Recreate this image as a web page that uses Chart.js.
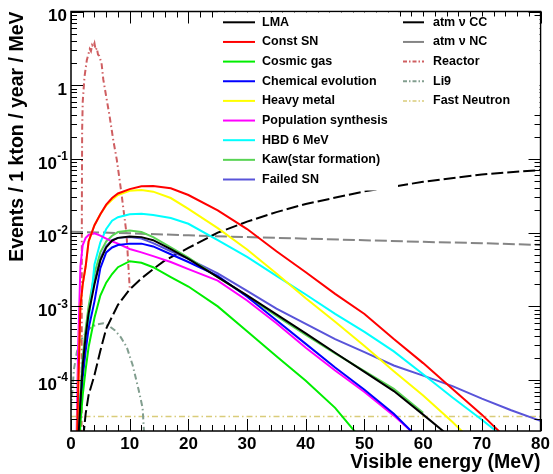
<!DOCTYPE html>
<html>
<head>
<meta charset="utf-8">
<script src="https://cdn.jsdelivr.net/npm/chart.js@4.4.1/dist/chart.umd.min.js"></script>
<style>
  html, body { margin: 0; padding: 0; background: #fff; }
</style>
</head>
<body>
<canvas id="c" width="553" height="474"></canvas>
<script>
// energy grid (MeV) used by the SRN model curves
const energies = [0.9, 1.2, 1.6, 2, 2.5, 3, 4, 5, 6, 7, 8, 10, 12, 14, 17, 20, 25, 30, 35, 40, 45, 50, 55, 60, 65, 70, 75, 80];

// events / 1 kton / year / MeV
const lma        = [2e-6, 1.3e-5, 5e-5, 1.6e-4, 4e-4, 8e-4, 2e-3, 4.2e-3, 6.3e-3, 7.8e-3, 8.5e-3, 8.9e-3, 8.7e-3, 7.9e-3, 6e-3, 4.4e-3, 2.5e-3, 1.41e-3, 7.8e-4, 4.3e-4, 2.35e-4, 1.29e-4, 7.1e-5, 3.4e-5, 1.6e-5, null, null, null];
const constSN    = [5e-6, 6e-5, 1e-3, 2e-3, 3.5e-3, 7.6e-3, 0.0126, 0.0178, 0.024, 0.0295, 0.034, 0.039, 0.0427, 0.043, 0.040, 0.0324, 0.020, 0.0112, 5.6e-3, 2.9e-3, 1.48e-3, 7.9e-4, 3.6e-4, 1.7e-4, 7.6e-5, 3.4e-5, 1.4e-5, 6e-6];
const cosmicGas  = [1e-6, 6e-6, 2.5e-5, 6.3e-5, 1.4e-4, 2.8e-4, 7e-4, 1.4e-3, 2.1e-3, 2.75e-3, 3.4e-3, 4.1e-3, 3.9e-3, 3.4e-3, 2.5e-3, 1.86e-3, 1e-3, 4.6e-4, 2.1e-4, 9.8e-5, 4.2e-5, 1.4e-5, null, null, null, null, null, null];
const chemEvol   = [2e-6, 1e-5, 4e-5, 1.1e-4, 2.5e-4, 5e-4, 1.17e-3, 3.3e-3, 5.4e-3, 6.3e-3, 6.8e-3, 7.1e-3, 7.1e-3, 6.5e-3, 5.1e-3, 4e-3, 2.6e-3, 1.35e-3, 6.5e-4, 3.1e-4, 1.48e-4, 7.4e-5, 3.5e-5, 1.4e-5, null, null, null, null];
const heavyMetal = [5e-6, 6e-5, 1e-3, 2e-3, 3.5e-3, 7.6e-3, 0.0126, 0.0178, 0.0234, 0.028, 0.0324, 0.037, 0.038, 0.036, 0.0295, 0.021, 0.0115, 5.9e-3, 2.8e-3, 1.29e-3, 6.2e-4, 2.9e-4, 1.32e-4, 6.2e-5, 2.7e-5, 1.1e-5, null, null];
const popSynth   = [1e-5, 2.5e-4, 3.5e-3, 6.8e-3, 8.5e-3, 9.3e-3, 9.8e-3, 9.1e-3, 8.3e-3, 7.6e-3, 7.1e-3, 6.0e-3, 5.4e-3, 4.8e-3, 4.0e-3, 3.2e-3, 2.24e-3, 1.2e-3, 5.9e-4, 2.75e-4, 1.35e-4, 6.9e-5, 3.3e-5, 1.45e-5, null, null, null, null];
const hbd6       = [3e-6, 1e-5, 5e-5, 1.6e-4, 3.5e-4, 6e-4, 3.7e-3, 7.4e-3, 0.0112, 0.0145, 0.0162, 0.0178, 0.018, 0.0174, 0.0158, 0.0132, 7.9e-3, 4.7e-3, 2.6e-3, 1.45e-3, 7.9e-4, 4.5e-4, 2.45e-4, 1.2e-4, 5.8e-5, 2.9e-5, 1.4e-5, null];
const kaw        = [2e-6, 1.6e-5, 6e-5, 2e-4, 5e-4, 1e-3, 2.8e-3, 5.4e-3, 7.6e-3, 9.1e-3, 0.0102, 0.0107, 0.0102, 8.7e-3, 6.3e-3, 4.6e-3, 2.5e-3, 1.38e-3, 7.4e-4, 4.1e-4, 2.3e-4, 1.32e-4, 7.6e-5, 3.6e-5, null, null, null, null];
const failedSN   = [2e-6, 1.3e-5, 5.6e-5, 1.8e-4, 4.5e-4, 9e-4, 2.2e-3, 4.5e-3, 6.6e-3, 7.9e-3, 8.5e-3, 8.7e-3, 8.3e-3, 7.2e-3, 5.6e-3, 4.4e-3, 2.8e-3, 1.62e-3, 9.3e-4, 5.8e-4, 3.6e-4, 2.4e-4, 1.58e-4, 1.15e-4, 8.3e-5, 5.6e-5, 3.9e-5, 2.8e-5];

// backgrounds
const atmCCEnergies = [1.8, 2.5, 3, 4, 5, 6, 8, 10, 12, 14, 16, 20, 25, 30, 35, 40, 50, 60, 70, 80];
const atmCC         = [1e-5, 3.5e-5, 6.3e-5, 1.17e-4, 2.5e-4, 5e-4, 1.05e-3, 1.7e-3, 2.4e-3, 3.2e-3, 4.2e-3, 6.2e-3, 0.010, 0.0141, 0.019, 0.0245, 0.0363, 0.049, 0.0617, 0.0708];
const atmNCEnergies = [0, 10, 20, 30, 40, 50, 60, 70, 80];
const atmNC         = [0.0103, 9.8e-3, 9.2e-3, 8.7e-3, 8.3e-3, 7.9e-3, 7.5e-3, 7.2e-3, 6.8e-3];
const reactorEnergies = [1.8, 1.85, 1.9, 2.0, 2.3, 2.7, 3.0, 3.2, 3.4, 3.6, 3.8, 4.0, 4.2, 4.4, 4.6, 4.8, 5.2, 5.5, 6.0, 6.6, 7.2, 7.8, 8.6, 9.45, 10.0];
const reactor         = [1e-5, 0.02, 0.25, 0.6, 1.3, 2.2, 2.7, 3.1, 2.9, 3.5, 3.3, 3.7, 3.0, 3.2, 2.6, 2.5, 2.0, 1.2, 0.7, 0.37, 0.18, 0.098, 0.034, 0.0098, 0.0018];
const li9Energies = [0, 0.5, 1, 1.5, 2.5, 3.5, 4.5, 5.5, 6.5, 7.5, 8.5, 9.5, 10.5, 11.5, 12.2, 12.6];
const li9         = [4e-5, 1.4e-4, 2.4e-4, 3.3e-4, 4.4e-4, 5.3e-4, 5.7e-4, 5.9e-4, 5.4e-4, 4.7e-4, 3.8e-4, 2.8e-4, 1.6e-4, 7.5e-5, 4.2e-5, 1.2e-5];
const fastNEnergies = [0, 80];
const fastN         = [3.2e-5, 3.2e-5];

// y axis decade labels
const yTickValues = [10, 1, 0.1, 0.01, 0.001, 0.0001];
const yTickBase   = ['10', '1', '10', '10', '10', '10'];
const yTickExp    = ['', '', '-1', '-2', '-3', '-4'];

const FONT = 'Liberation Sans, Arial, Helvetica, sans-serif';

function series(xs, ys) {
    return xs.map((x, i) => ({ x: x, y: ys[i] }));
}

function ds(label, xs, ys, color, dash, width) {
    return {
        label: label,
        data: series(xs, ys),
        borderColor: color,
        backgroundColor: color,
        borderWidth: width || 2,
        borderDash: dash || [],
        pointRadius: 0,
        fill: false,
        tension: 0,
        clip: 0
    };
}

const dashLong = [12, 4];
const dashDot = [6, 3, 1.5, 3];

const datasets = [
    ds('LMA', energies, lma, '#000000'),
    ds('Const SN', energies, constSN, '#ff0000'),
    ds('Cosmic gas', energies, cosmicGas, '#00ee00'),
    ds('Chemical evolution', energies, chemEvol, '#0000ff'),
    ds('Heavy metal', energies, heavyMetal, '#ffff00'),
    ds('Population synthesis', energies, popSynth, '#ff00ff'),
    ds('HBD 6 MeV', energies, hbd6, '#00ffff'),
    ds('Kaw(star formation)', energies, kaw, '#59d454'),
    ds('Failed SN', energies, failedSN, '#5954d9'),
    ds('atm \u03bd CC', atmCCEnergies, atmCC, '#000000', dashLong),
    ds('atm \u03bd NC', atmNCEnergies, atmNC, '#858585', dashLong),
    ds('Reactor', reactorEnergies, reactor, '#cf5e61', dashDot),
    ds('Li9', li9Energies, li9, '#829e8f', dashDot),
    ds('Fast Neutron', fastNEnergies, fastN, '#d9cc7a', dashDot, 1.5)
];

// ROOT-like frame: inward ticks on all sides, legends drawn over the frame
const rootFrame = {
    id: 'rootFrame',
    afterDatasetsDraw(chart) {
        const { ctx, chartArea: a, scales: { x, y } } = chart;
        ctx.save();
        ctx.strokeStyle = '#000';
        ctx.lineWidth = 1;
        ctx.beginPath();
        for (let e = 0; e <= 80; e += 2) {
            const px = Math.round(x.getPixelForValue(e)) + 0.5;
            const len = e % 10 === 0 ? 12 : 6;
            ctx.moveTo(px, a.bottom); ctx.lineTo(px, a.bottom - len);
            ctx.moveTo(px, a.top); ctx.lineTo(px, a.top + len);
        }
        for (let d = 1e-5; d <= 10; d *= 10) {
            for (let m = 1; m <= 9; m++) {
                const v = m * d;
                if (v < y.min || v > y.max * 1.0001) continue;
                const py = Math.round(y.getPixelForValue(v)) + 0.5;
                const len = m === 1 ? 12 : 6;
                ctx.moveTo(a.left, py); ctx.lineTo(a.left + len, py);
                ctx.moveTo(a.right, py); ctx.lineTo(a.right - len, py);
            }
        }
        ctx.stroke();
        ctx.lineWidth = 1.5;
        ctx.strokeRect(a.left, a.top, a.right - a.left, a.bottom - a.top);

        // legend boxes
        ctx.fillStyle = '#fff';
        ctx.fillRect(218, a.top + 1, 180, 178);
        ctx.fillRect(398, a.top + 5, a.right - 399, 96);

        const rowY = (i) => 22.3 + i * 19.65;
        ctx.font = 'bold 12.5px ' + FONT;
        ctx.textBaseline = 'middle';
        ctx.textAlign = 'left';
        chart.data.datasets.forEach((d, i) => {
            const left = i < 9;
            const row = left ? i : i - 9;
            const x0 = left ? 223 : 403;
            const x1 = left ? 255 : 424;
            const tx = left ? 262 : 433;
            const yy = rowY(row);
            ctx.strokeStyle = d.borderColor;
            ctx.lineWidth = d.borderWidth;
            ctx.setLineDash(d.borderDash.length ? [4, 2, 1.5, 2] : []);
            if (i === 9 || i === 10) ctx.setLineDash([]);
            ctx.beginPath();
            ctx.moveTo(x0, yy); ctx.lineTo(x1, yy);
            ctx.stroke();
            ctx.setLineDash([]);
            ctx.fillStyle = '#000';
            ctx.fillText(d.label, tx, yy);
        });
        ctx.restore();
    },
    afterDraw(chart) {
        const { ctx, scales: { y } } = chart;
        ctx.save();
        ctx.fillStyle = '#000';
        ctx.textBaseline = 'middle';
        ctx.textAlign = 'right';
        const right = 68;
        yTickValues.forEach((v, i) => {
            const py = y.getPixelForValue(v);
            let w = 0;
            if (yTickExp[i]) {
                ctx.font = 'bold 12px ' + FONT;
                w = ctx.measureText(yTickExp[i]).width;
                ctx.fillText(yTickExp[i], right, py - 2);
            }
            ctx.font = 'bold 17px ' + FONT;
            ctx.fillText(yTickBase[i], right - w - (w ? 0.5 : 1), py + 5);
        });
        ctx.restore();
    }
};

new Chart(document.getElementById('c'), {
    type: 'line',
    data: { datasets: datasets },
    options: {
        responsive: false,
        animation: false,
        events: [],
        layout: { padding: { left: 0, right: 10.5, top: 11.5, bottom: 0 } },
        plugins: {
            legend: { display: false },
            tooltip: { enabled: false }
        },
        scales: {
            x: {
                type: 'linear',
                min: 0,
                max: 80,
                grid: { display: false, drawTicks: false },
                border: { display: false },
                ticks: {
                    stepSize: 10,
                    padding: 3,
                    maxRotation: 0,
                    color: '#000',
                    font: { family: FONT, size: 17, weight: 'bold' }
                },
                title: {
                    display: true,
                    text: 'Visible energy (MeV)',
                    align: 'end',
                    color: '#000',
                    padding: { top: 0, bottom: 0 },
                    font: { family: FONT, size: 19.5, weight: 'bold' }
                },
                afterFit: (s) => { s.height = 43; }
            },
            y: {
                type: 'logarithmic',
                min: 2.04e-5,
                max: 10,
                grid: { display: false, drawTicks: false },
                border: { display: false },
                ticks: { display: false },
                title: {
                    display: true,
                    text: 'Events / 1 kton / year / MeV',
                    align: 'end',
                    color: '#000',
                    padding: { top: 6.3, bottom: 0 },
                    font: { family: FONT, size: 19.5, weight: 'bold' }
                },
                afterFit: (s) => { s.width = 71; }
            }
        }
    },
    plugins: [rootFrame]
});
</script>
</body>
</html>
